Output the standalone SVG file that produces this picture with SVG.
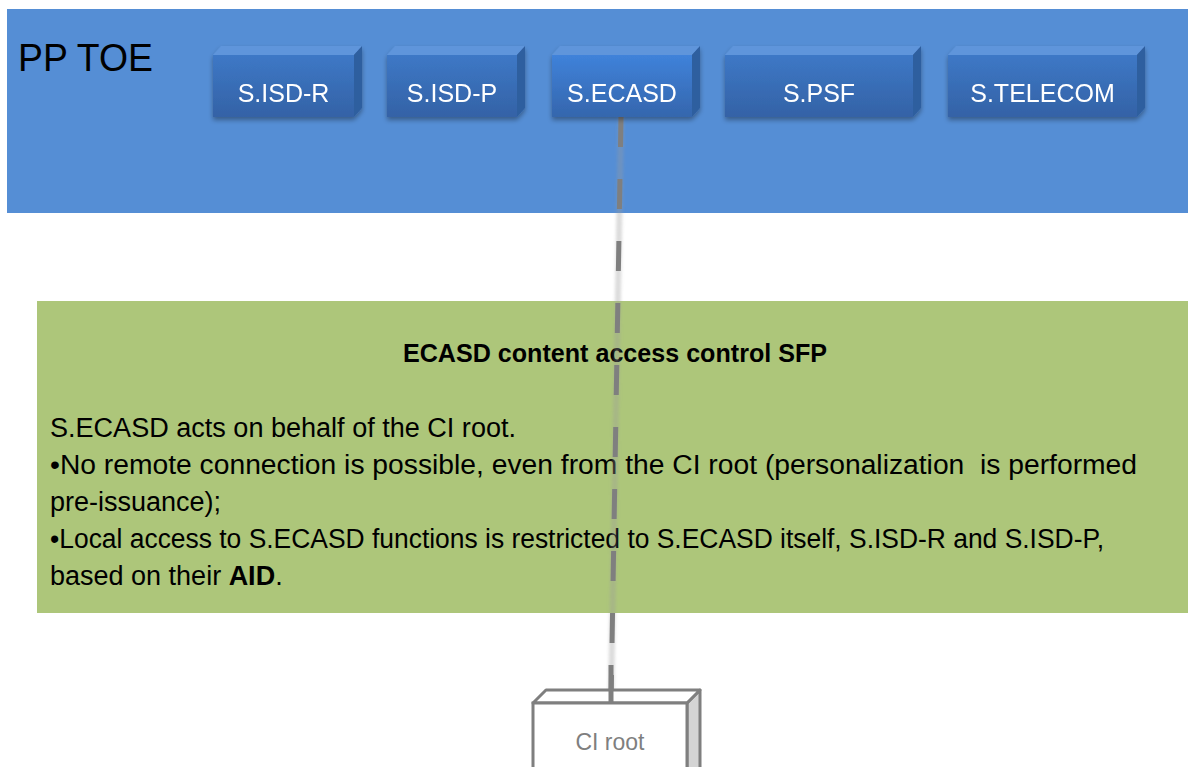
<svg xmlns="http://www.w3.org/2000/svg" width="1188" height="767" viewBox="0 0 1188 767">
<defs>
<linearGradient id="gFront" x1="0" y1="0" x2="0" y2="1">
<stop offset="0" stop-color="#3D78C6"/>
<stop offset="1" stop-color="#3462A6"/>
</linearGradient>
<linearGradient id="gFrontHi" x1="0" y1="0" x2="0" y2="1">
<stop offset="0" stop-color="#3F82DA"/>
<stop offset="1" stop-color="#3566AD"/>
</linearGradient>
<filter id="sh" x="-10%" y="-10%" width="130%" height="140%">
<feGaussianBlur in="SourceAlpha" stdDeviation="2.5"/>
<feOffset dx="0" dy="3" result="b"/>
<feComponentTransfer><feFuncA type="linear" slope="0.35"/></feComponentTransfer>
<feMerge><feMergeNode/><feMergeNode in="SourceGraphic"/></feMerge>
</filter>
<filter id="soft" x="-50%" y="-5%" width="200%" height="110%">
<feGaussianBlur stdDeviation="1.5"/>
</filter>
</defs>
<style>
.box-top{fill:#5E95DB}
.box-side{fill:#2F5E9F}
.ntext{font-family:"Liberation Sans",Arial,sans-serif;font-size:25px;fill:#FFFFFF;text-anchor:middle}
.body{font-family:"Liberation Sans",Arial,sans-serif;font-size:27px;fill:#000000}
</style>

<g id="pp-toe">
<rect x="7" y="9" width="1181" height="204" fill="#558ED5"/>
<text x="18" y="71" font-family="'Liberation Sans',Arial,sans-serif" font-size="39" fill="#000000" textLength="135" lengthAdjust="spacingAndGlyphs">PP TOE</text>
</g>

<g id="sfp-box">
<rect x="37" y="301" width="1151" height="312" fill="#ADC67A"/>
<text x="615" y="362" text-anchor="middle" font-family="'Liberation Sans',Arial,sans-serif" font-size="25" font-weight="bold" fill="#000000" textLength="424" lengthAdjust="spacingAndGlyphs">ECASD content access control SFP</text>
<text class="body" x="50" y="437" textLength="466" lengthAdjust="spacingAndGlyphs">S.ECASD acts on behalf of the CI root.</text>
<text class="body" x="50" y="474" textLength="1087" lengthAdjust="spacingAndGlyphs" xml:space="preserve">•No remote connection is possible, even from the CI root (personalization  is performed</text>
<text class="body" x="50" y="511">pre-issuance);</text>
<text class="body" x="50" y="548" textLength="1054" lengthAdjust="spacingAndGlyphs">•Local access to S.ECASD functions is restricted to S.ECASD itself, S.ISD-R and S.ISD-P,</text>
<text class="body" x="50" y="585">based on their <tspan font-weight="bold">AID</tspan>.</text>
</g>

<g id="connectors">
<line x1="621" y1="117" x2="611" y2="703" stroke="#9A9A9A" stroke-width="6" stroke-opacity="0.35" filter="url(#soft)"/>
<line x1="621" y1="117" x2="611" y2="703" stroke="#7F7F7F" stroke-width="5" stroke-dasharray="30 32"/>
</g>

<g id="node-isd-r" filter="url(#sh)">
<polygon class="box-top" points="213,55 221,46 362,46 354,55"/>
<polygon class="box-side" points="354,55 362,46 362,108 354,117"/>
<rect x="213" y="55" width="141" height="62" fill="url(#gFront)"/>
<text class="ntext" x="283.5" y="102">S.ISD-R</text>
</g>

<g id="node-isd-p" filter="url(#sh)">
<polygon class="box-top" points="387,55 395,46 525,46 517,55"/>
<polygon class="box-side" points="517,55 525,46 525,108 517,117"/>
<rect x="387" y="55" width="130" height="62" fill="url(#gFront)"/>
<text class="ntext" x="452" y="102">S.ISD-P</text>
</g>

<g id="node-ecasd" filter="url(#sh)">
<polygon class="box-top" points="552,55 560,46 700,46 692,55"/>
<polygon class="box-side" points="692,55 700,46 700,108 692,117"/>
<rect x="552" y="55" width="140" height="62" fill="url(#gFrontHi)"/>
<text class="ntext" x="622" y="102">S.ECASD</text>
</g>

<g id="node-psf" filter="url(#sh)">
<polygon class="box-top" points="725,55 733,46 921,46 913,55"/>
<polygon class="box-side" points="913,55 921,46 921,108 913,117"/>
<rect x="725" y="55" width="188" height="62" fill="url(#gFront)"/>
<text class="ntext" x="819" y="102">S.PSF</text>
</g>

<g id="node-telecom" filter="url(#sh)">
<polygon class="box-top" points="948,55 956,46 1145,46 1137,55"/>
<polygon class="box-side" points="1137,55 1145,46 1145,108 1137,117"/>
<rect x="948" y="55" width="189" height="62" fill="url(#gFront)"/>
<text class="ntext" x="1042.5" y="102">S.TELECOM</text>
</g>

<g id="node-ci-root">
<polygon points="687,703 700,690 700,770 687,770" fill="#D4D4D4" stroke="#7F7F7F" stroke-width="3" stroke-linejoin="round"/>
<polygon points="533,703 546,690 700,690 687,703" fill="#FFFFFF" stroke="#7F7F7F" stroke-width="3" stroke-linejoin="round"/>
<rect x="533" y="703" width="154" height="70" fill="#FFFFFF" stroke="#7F7F7F" stroke-width="3"/>
<line x1="611" y1="665" x2="611" y2="703" stroke="#7F7F7F" stroke-width="5"/>
<text x="610" y="750" text-anchor="middle" font-family="'Liberation Sans',Arial,sans-serif" font-size="23" fill="#7F7F7F">CI root</text>
</g>
</svg>
